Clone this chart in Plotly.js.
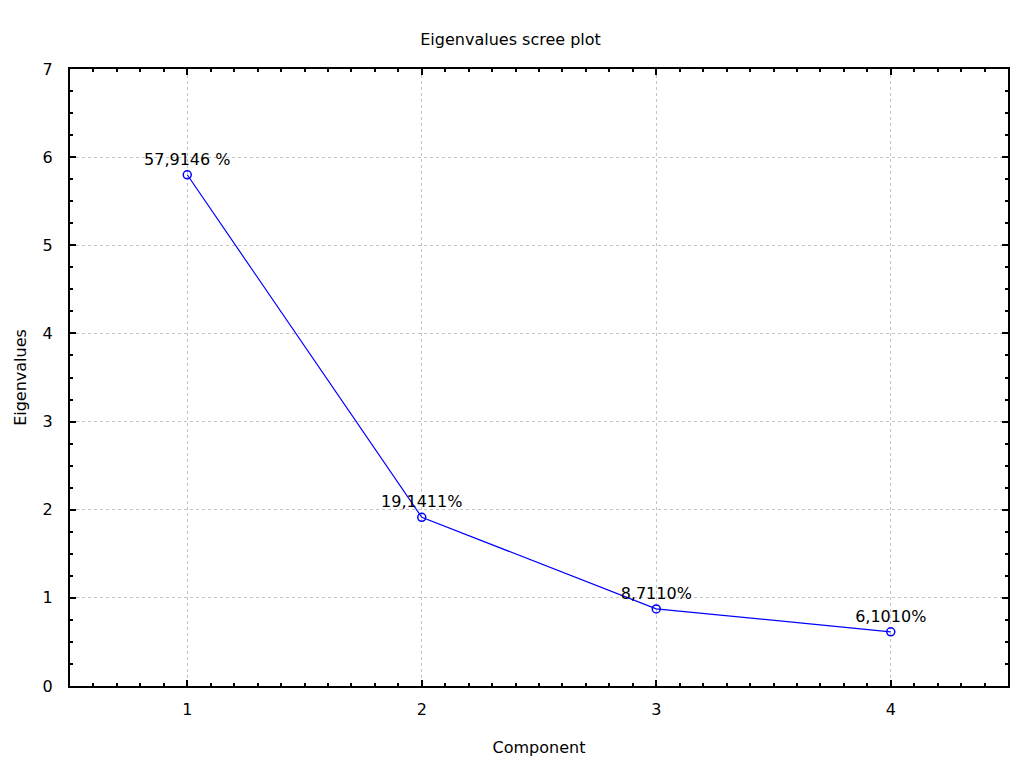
<!DOCTYPE html>
<html>
<head>
<meta charset="utf-8">
<script src="https://cdn.plot.ly/plotly-3.0.1.min.js"></script>
<style>html,body{margin:0;padding:0;background:#fff;}#chart{width:1011px;height:767px;}</style>
</head>
<body>
<div id="chart"></div>
<script>
const components = [1, 2, 3, 4];
const eigenvalues = [5.80, 1.914, 0.875, 0.615];
const percentLabels = ["57,9146 %", "19,1411%", "8,7110%", "6,1010%"];
const xTicks = [1, 2, 3, 4];
const yTicks = [0, 1, 2, 3, 4, 5, 6, 7];

const font = {family: "DejaVu Sans, Arial, sans-serif", size: 16, color: "#000"};

const trace = {
  x: components,
  y: eigenvalues,
  mode: "lines+markers+text",
  text: percentLabels,
  textposition: "top center",
  textfont: font,
  line: {color: "#0000ff", width: 1.2},
  marker: {symbol: "circle-open", size: 8, color: "#0000ff", line: {width: 1.5, color: "#0000ff"}},
  cliponaxis: false,
  hoverinfo: "none"
};

const axisCommon = {
  showline: true, linecolor: "#000", linewidth: 2, mirror: "allticks",
  ticks: "inside", ticklen: 6, tickwidth: 2, tickcolor: "#000",
  showgrid: true, gridcolor: "#c4c4c4", griddash: "dot", gridwidth: 1,
  zeroline: false, tickfont: font
};

const layout = {
  width: 1011, height: 767,
  margin: {l: 70, r: 3, t: 69, b: 81},
  paper_bgcolor: "#fff", plot_bgcolor: "#fff",
  showlegend: false,
  title: {text: "Eigenvalues scree plot", font: font, x: 0.505, xanchor: "center", y: 0.948, yanchor: "middle"},
  xaxis: Object.assign({}, axisCommon, {
    range: [0.5, 4.5], tickmode: "array", tickvals: xTicks, ticktext: xTicks.map(String),
    minor: {dtick: 0.1, ticks: "inside", ticklen: 3, tickwidth: 2, tickcolor: "#000", showgrid: false},
    ticklabelstandoff: 8,
    title: {text: "Component", font: font, standoff: 24}
  }),
  yaxis: Object.assign({}, axisCommon, {
    range: [0, 7], tickmode: "array", tickvals: yTicks, ticktext: yTicks.map(String),
    minor: {dtick: 0.25, ticks: "inside", ticklen: 3, tickwidth: 2, tickcolor: "#000", showgrid: false},
    ticklabelstandoff: 12,
    title: {text: "Eigenvalues", font: font, standoff: 12}
  })
};

Plotly.newPlot("chart", [trace], layout, {displayModeBar: false, staticPlot: true});
</script>
</body>
</html>
